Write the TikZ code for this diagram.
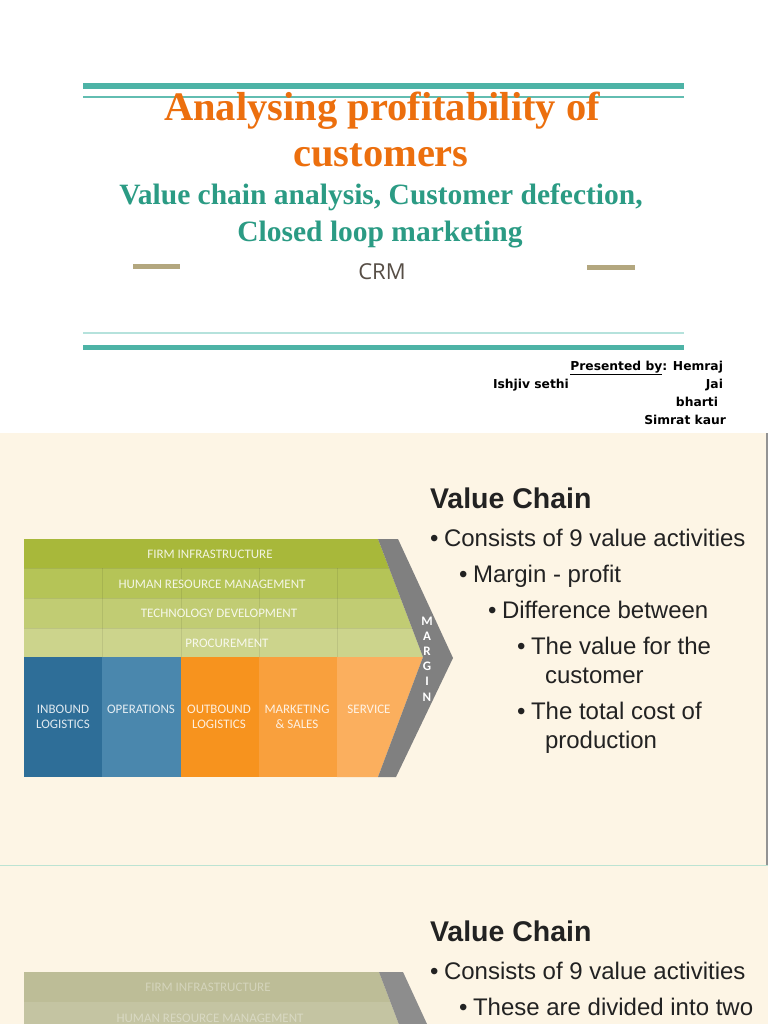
\documentclass[tikz,border=0pt]{standalone}
\usepackage{fontspec}
\setmainfont{Liberation Serif}
\newfontfamily\arialf{Liberation Sans}
\newfontfamily\osans{Open Sans}
\newfontfamily\carl{Carlito}
\newfontfamily\dvs{DejaVu Sans}
\definecolor{tealA}{HTML}{4DB3A6}
\definecolor{tealB}{HTML}{62BDB1}
\definecolor{tealC}{HTML}{B5E2DC}
\definecolor{tealD}{HTML}{BCE3D2}
\definecolor{tealtext}{HTML}{2B9B84}
\definecolor{orangetitle}{HTML}{EC6F0E}
\definecolor{khaki}{HTML}{B3A77F}
\definecolor{crmgray}{HTML}{574E46}
\definecolor{cream}{HTML}{FDF5E5}
\definecolor{rowA}{HTML}{A8B83A}
\definecolor{rowB}{HTML}{B5C457}
\definecolor{rowC}{HTML}{C1CC73}
\definecolor{rowD}{HTML}{CCD48C}
\definecolor{inb}{HTML}{2E6E98}
\definecolor{ops}{HTML}{4A87AD}
\definecolor{outb}{HTML}{F7931E}
\definecolor{mkt}{HTML}{F9A03D}
\definecolor{srv}{HTML}{FBAF5E}
\definecolor{margray}{HTML}{808080}
\definecolor{bodytext}{HTML}{222222}
\definecolor{fadeA}{HTML}{BDBD97}
\definecolor{fadeB}{HTML}{C4C4A2}
\tikzset{
  lbl/.style={font=\carl\fontsize{13}{15.5}\selectfont, text=white, text opacity=0.85, align=center},
  marg/.style={font=\carl\bfseries\fontsize{13}{13}\selectfont, text=white, anchor=base},
  bodyt/.style={font=\arialf\fontsize{24}{28}\selectfont, text=bodytext, anchor=base west},
  headt/.style={font=\arialf\bfseries\fontsize{28.5}{32}\selectfont, text=bodytext, anchor=base west},
  pres/.style={font=\dvs\bfseries\fontsize{12.3}{14}\selectfont, text=black},
  rowline/.style={draw=black, draw opacity=0.08, line width=0.8pt},
}
\begin{document}
\begin{tikzpicture}[x=1pt,y=-1pt,inner sep=0pt,outer sep=0pt]
\useasboundingbox (0,0) rectangle (768,1024);
\fill[white] (0,0) rectangle (768,1024);
\fill[cream] (0,433) rectangle (768,1024);
% ---------- title page ----------
\fill[tealA] (83,83.5) rectangle (684,89);
\fill[tealB] (83,96.5) rectangle (684,97.6);
\fill[tealC] (83,332.4) rectangle (684,333.6);
\fill[tealA] (83,344.5) rectangle (684,349.5);
\node[font=\bfseries\fontsize{40.5}{46}\selectfont, text=orangetitle, anchor=base] (t1) at (382,121) {Analysing profitability of};
\node[font=\bfseries\fontsize{40.5}{46}\selectfont, text=orangetitle, anchor=base] (t2) at (381,167) {customers};
\node[font=\bfseries\fontsize{29.5}{34}\selectfont, text=tealtext, anchor=base] (s1) at (381,205) {Value chain analysis, Customer defection,};
\node[font=\bfseries\fontsize{29.5}{34}\selectfont, text=tealtext, anchor=base] (s2) at (380,241) {Closed loop marketing};
\fill[khaki] (133,264) rectangle (180,269);
\fill[khaki] (587,265) rectangle (635,270);
\node[font=\osans\fontsize{22}{26}\selectfont, text=crmgray, anchor=base] (crm) at (382,279) {CRM};
\node[pres, anchor=base east] (p1) at (723,370) {\underline{Presented by}: Hemraj};
\node[pres, anchor=base west] (p2) at (493,388) {Ishjiv sethi};
\node[pres, anchor=base east] (p3) at (723,388) {Jai};
\node[pres, anchor=base east] (p4) at (718,406) {bharti};
\node[pres, anchor=base east] (p5) at (726,424) {Simrat kaur};
% ---------- slide 1 ----------
\draw[margray!85, line width=1.5pt] (767,433) -- (767,865);
% support rows
\fill[rowA] (24,539) -- (378,539) -- (389.1,568) -- (24,568) -- cycle;
\fill[rowB] (24,568) -- (389.1,568) -- (400.5,598) -- (24,598) -- cycle;
\fill[rowC] (24,598) -- (400.5,598) -- (411.9,628) -- (24,628) -- cycle;
\fill[rowD] (24,628) -- (411.9,628) -- (423,657) -- (24,657) -- cycle;
\draw[rowline] (24,568) -- (389.1,568);
\draw[rowline] (24,598) -- (400.5,598);
\draw[rowline] (24,628) -- (411.9,628);
\foreach \xx in {102,181,259,337} \draw[rowline] (\xx,568) -- (\xx,657);
% primary activities
\fill[inb] (24,657) rectangle (102,777);
\fill[ops] (102,657) rectangle (181,777);
\fill[outb] (181,657) rectangle (259,777);
\fill[mkt] (259,657) rectangle (337,777);
\fill[srv] (337,657) -- (423,657) -- (378,777) -- (337,777) -- cycle;
% margin band
\fill[margray] (378,539) -- (398,539) -- (453,658) -- (396,777) -- (378,777) -- (423,657) -- cycle;
\node[lbl] (fi) at (210,554) {FIRM INFRASTRUCTURE};
\node[lbl] (hr) at (212,584) {HUMAN RESOURCE MANAGEMENT};
\node[lbl] (td) at (219,613) {TECHNOLOGY DEVELOPMENT};
\node[lbl] (pr) at (227,643) {PROCUREMENT};
\node[lbl] (il) at (63,717) {INBOUND\\LOGISTICS};
\node[lbl] (op) at (141,709) {OPERATIONS};
\node[lbl] (ol) at (219,717) {OUTBOUND\\LOGISTICS};
\node[lbl] (ms) at (297,717) {MARKETING\\\& SALES};
\node[lbl] (sv) at (369,709) {SERVICE};
\node[marg] (m1) at (427,625) {M};
\node[marg] (m2) at (427,640) {A};
\node[marg] (m3) at (427,655) {R};
\node[marg] (m4) at (427,670) {G};
\node[marg] (m5) at (427,685) {I};
\node[marg] (m6) at (427,701) {N};
\node[headt] (h1) at (430,508) {Value Chain};
\node[bodyt] (b1a) at (430,546) {\textbullet};
\node[bodyt] (b1) at (444,546) {Consists of 9 value activities};
\node[bodyt] (b2a) at (459,582) {\textbullet};
\node[bodyt] (b2) at (473,582) {Margin - profit};
\node[bodyt] (b3a) at (488,618) {\textbullet};
\node[bodyt] (b3) at (502,618) {Difference between};
\node[bodyt] (b4a) at (517,654) {\textbullet};
\node[bodyt] (b4) at (531,654) {The value for the};
\node[bodyt] (b4b) at (545,683) {customer};
\node[bodyt] (b5a) at (517,719) {\textbullet};
\node[bodyt] (b5) at (531,719) {The total cost of};
\node[bodyt] (b5b) at (545,748) {production};
% ---------- slide 2 ----------
\draw[tealD, line width=1.4pt] (0,865.5) -- (768,865.5);
\fill[fadeA] (24,972) -- (379,972) -- (390.4,1002) -- (24,1002) -- cycle;
\fill[fadeB] (24,1002) -- (390.4,1002) -- (398.8,1024) -- (24,1024) -- cycle;
\fill[margray!90] (379,972) -- (403,972) -- (427,1024) -- (398.8,1024) -- cycle;
\node[lbl, text opacity=0.35] (fi2) at (208,987) {FIRM INFRASTRUCTURE};
\node[lbl, text opacity=0.35] (hr2) at (210,1018) {HUMAN RESOURCE MANAGEMENT};
\node[headt] (h2) at (430,941) {Value Chain};
\node[bodyt] (c1a) at (430,979) {\textbullet};
\node[bodyt] (c1) at (444,979) {Consists of 9 value activities};
\node[bodyt] (c2a) at (459,1015) {\textbullet};
\node[bodyt] (c2) at (473,1015) {These are divided into two};
\end{tikzpicture}
\end{document}
